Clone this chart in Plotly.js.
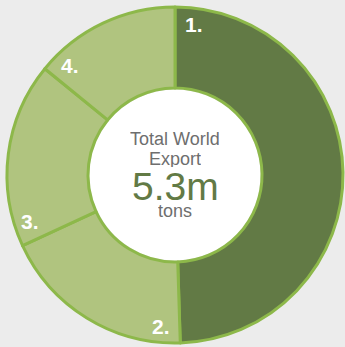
<!DOCTYPE html>
<html>
<head>
<meta charset="utf-8">
<script src="https://cdn.plot.ly/plotly-3.0.1.min.js"></script>
<style>
html,body{margin:0;padding:0;background:#ececec;}
#chart{width:345px;height:347px;}
</style>
</head>
<body>
<div id="chart"></div>
<script>
// Data
const sliceLabels = ["1.", "2.", "3.", "4."];
const sliceValues = [49.5, 18.6, 17.8, 14.1];
const sliceColors = ["#627a45", "#b0c47f", "#b0c47f", "#b0c47f"];
const centerTitle = ["Total World", "Export"];
const centerValue = "5.3m";
const centerUnit = "tons";

const W = 345, H = 347;
const cx = 175, cy = 175, R = 168;

const total = sliceValues.reduce((a, b) => a + b, 0);
const annotations = [];
let cum = 0;
sliceValues.forEach((v, i) => {
  const startDeg = cum / total * 360;
  cum += v;
  const a = (startDeg + 7) * Math.PI / 180;
  const r = 152;
  const px = cx + r * Math.sin(a);
  const py = cy - r * Math.cos(a);
  annotations.push({
    text: "<b>" + sliceLabels[i] + "</b>",
    x: px / W, y: 1 - py / H, xref: "paper", yref: "paper",
    xanchor: "center", yanchor: "middle", showarrow: false,
    font: {family: "Liberation Sans, Arial, sans-serif", size: 21, color: "#ffffff"}
  });
});

function centerAnn(text, yPx, size, color, h) {
  annotations.push({
    text: text, x: cx / W, y: 1 - yPx / H, xref: "paper", yref: "paper",
    xanchor: "center", yanchor: "middle", showarrow: false, height: h,
    font: {family: "Liberation Sans, Arial, sans-serif", size: size, color: color}
  });
}
centerAnn(centerTitle[0], 139, 18, "#6e6e6e", 18);
centerAnn(centerTitle[1], 159, 18, "#6e6e6e", 16);
centerAnn(centerValue, 186, 39, "#627a45", 32);
centerAnn(centerUnit, 211, 18, "#6e6e6e", 16);

const data = [{
  type: "pie",
  values: sliceValues,
  labels: sliceLabels,
  sort: false,
  direction: "clockwise",
  rotation: 0,
  hole: 0.518,
  textinfo: "none",
  hoverinfo: "label+percent",
  marker: {colors: sliceColors, line: {color: "#8db84a", width: 3}},
  domain: {x: [(cx - R) / W, (cx + R) / W], y: [1 - (cy + R) / H, 1 - (cy - R) / H]},
  showlegend: false
}];

const layout = {
  width: W, height: H,
  margin: {l: 0, r: 0, t: 0, b: 0},
  paper_bgcolor: "#ececec",
  plot_bgcolor: "#ececec",
  showlegend: false,
  annotations: annotations,
  shapes: [{
    type: "circle", xref: "paper", yref: "paper",
    x0: (cx - 85.5) / W, x1: (cx + 85.5) / W,
    y0: 1 - (cy + 85.5) / H, y1: 1 - (cy - 85.5) / H,
    fillcolor: "#ffffff", line: {width: 0}, layer: "below"
  }]
};

Plotly.newPlot("chart", data, layout, {displayModeBar: false, staticPlot: true});
</script>
</body>
</html>
